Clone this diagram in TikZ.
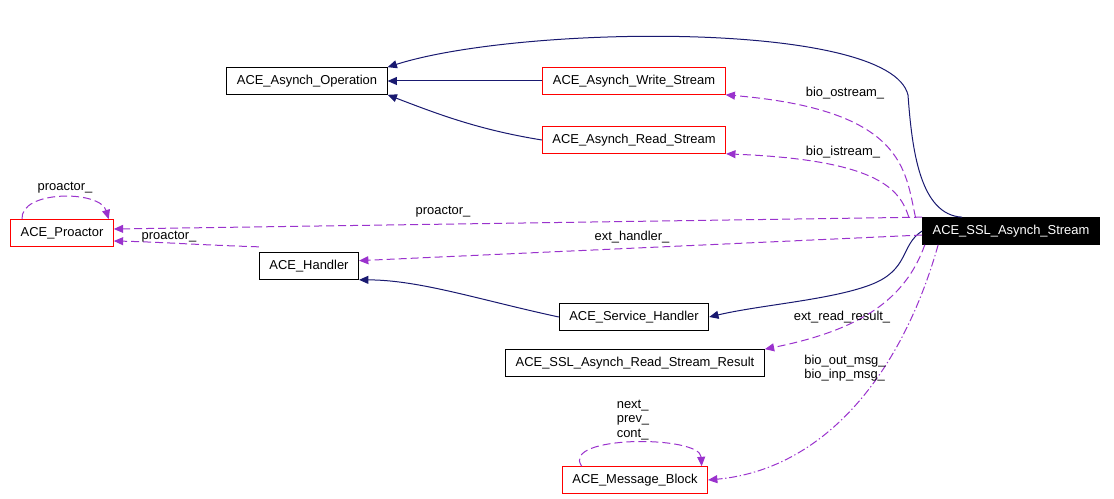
\documentclass[tikz,border=0pt]{standalone}
\usepackage{fontspec}
\setmainfont{Liberation Sans}
\usetikzlibrary{arrows.meta}
\definecolor{navyline}{HTML}{191970}
\definecolor{useline}{HTML}{9A32CD}
\tikzset{every picture/.style={line width=0.75pt},
  cls/.style={draw=black,fill=white,inner xsep=7.5pt,minimum height=20pt,font=\fontsize{9.7}{11}\selectfont},
  redcls/.style={cls,draw=red},
  inh/.style={navyline,-{Triangle[length=7pt,width=6pt]}},
  use/.style={useline,dash pattern=on 6pt off 3pt,-{Triangle[length=7pt,width=6pt]}},
  lbl/.style={inner sep=0.75pt,font=\fontsize{9.7}{11}\selectfont,align=left}}

\begin{document}
\begin{tikzpicture}[x=0.75pt,y=0.75pt,yscale=-1,xscale=1]
\path[use as bounding box] (0,0) rectangle (1114,499);

% Classes
\node[cls] (op) at (307,81) {ACE\_Asynch\_Operation};
\node[redcls] (ws) at (634,81) {ACE\_Asynch\_Write\_Stream};
\node[redcls] (rs) at (634,140) {ACE\_Asynch\_Read\_Stream};
\node[redcls] (pro) at (62,233) {ACE\_Proactor};
\node[cls] (hnd) at (309,266) {ACE\_Handler};
\node[cls,fill=black,text=white] (ssl) at (1011,231) {ACE\_SSL\_Asynch\_Stream};
\node[cls] (svc) at (634,317) {ACE\_Service\_Handler};
\node[cls] (res) at (635,363) {ACE\_SSL\_Asynch\_Read\_Stream\_Result};
\node[redcls] (mb) at (635,480) {ACE\_Message\_Block};

% Inheritance
\draw[inh] (ws.west) -- (op.east);
\draw[inh] (rs.west) .. controls (480,130) and (440,115) .. (op.south east);
\draw[inh] ([xshift=30]ssl.north west) .. controls (920,215) and (912,150) .. (908,95) .. controls (890,20) and (520,25) .. (op.north east);
\draw[inh] (ssl.west) .. controls (900,245) and (910,270) .. (870,285) .. controls (830,300) and (760,305) .. (svc.east);
\draw[inh] (svc.west) .. controls (480,300) and (420,280) .. (hnd.south east);

% Usage
\draw[use] ([xshift=-5]ssl.north west) .. controls (905,170) and (905,110) .. (ws.south east);
\draw[use] ([xshift=-10]ssl.north west) .. controls (900,190) and (880,160) .. (rs.south east);
\draw[use] (ssl.north west) -- ([yshift=-3]pro.east);
\draw[use] ([yshift=3]ssl.west) -- ([yshift=-4]hnd.east);
\draw[use] ([xshift=2]ssl.south west) .. controls (905,300) and (860,330) .. (res.north east);
\draw[useline,dash pattern=on 6pt off 2pt on 1pt off 2pt,-{Triangle[length=7pt,width=6pt]}] ([xshift=12]ssl.south west) .. controls (900,380) and (820,470) .. (mb.east);
\draw[use] ([yshift=-4]hnd.north west) .. controls (200,245) and (160,242) .. ([yshift=6]pro.east);
\draw[use] ([xshift=-30]pro.north) .. controls (20,190) and (100,190) .. ([xshift=35]pro.north);
\draw[use] ([xshift=-40]mb.north) .. controls (560,435) and (700,435) .. ([xshift=50]mb.north);

% Labels
\node[lbl] (l1) at (845,93) {bio\_ostream\_};
\node[lbl] (l2) at (843,152) {bio\_istream\_};
\node[lbl] (l3) at (443,212) {proactor\_};
\node[lbl] (l4) at (632,237) {ext\_handler\_};
\node[lbl] (l5) at (842,317) {ext\_read\_result\_};
\node[lbl] (l6) at (845,368) {bio\_out\_msg\_\\bio\_inp\_msg\_};
\node[lbl] (l7) at (169,237) {proactor\_};
\node[lbl] (l8) at (65,188) {proactor\_};
\node[lbl] (l9) at (633,420) {next\_\\prev\_\\cont\_};
\end{tikzpicture}
\end{document}
